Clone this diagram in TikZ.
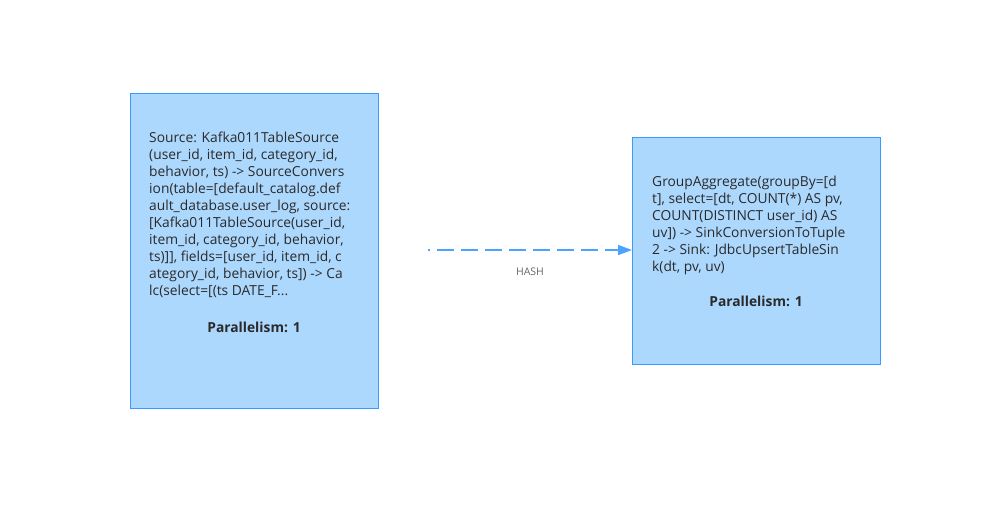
\documentclass[tikz,border=0pt]{standalone}
\usepackage{fontspec}
\setmainfont{Open Sans}
\usetikzlibrary{arrows.meta}
\definecolor{boxfill}{HTML}{ADD8FE}
\definecolor{boxline}{HTML}{3A9BFF}
\definecolor{edgecol}{HTML}{4AA3FF}
\definecolor{txt}{HTML}{2A2A2A}
\begin{document}
\begin{tikzpicture}[x=1pt,y=-1pt,
  opbox/.style={draw=boxline,fill=boxfill,line width=1.2pt,minimum width=248pt,inner sep=0pt,anchor=north west},
  optext/.style={anchor=north west,align=left,inner sep=0pt,text=txt,font=\fontsize{13.8}{17}\selectfont},
  partext/.style={text=txt,font=\fontsize{13.8}{17}\selectfont\bfseries,inner sep=0pt},
  edgelbl/.style={text=black!60,font=\fontsize{10.5}{12}\selectfont,inner sep=0pt}]
\useasboundingbox (0,0) rectangle (988,515);
\node[opbox,minimum height=315pt] (src) at (130,93) {};
\node[opbox,minimum height=227pt] (agg) at (632,137) {};
\node[optext] (srctext) at (149,132) {Source: Kafka011TableSource\\
(user\_id, item\_id, category\_id,\\
behavior, ts) -> SourceConvers\\
ion(table=[default\_catalog.def\\
ault\_database.user\_log, source:\\
{[}Kafka011TableSource(user\_id,\\
item\_id, category\_id, behavior,\\
ts)]], fields=[user\_id, item\_id, c\\
ategory\_id, behavior, ts]) -> Ca\\
lc(select=[(ts DATE\_F...};
\node[partext] (srcpar) at (254,327) {Parallelism: 1};
\node[optext] (aggtext) at (652,176) {GroupAggregate(groupBy=[d\\
t], select=[dt, COUNT(*) AS pv,\\
COUNT(DISTINCT user\_id) AS\\
uv]) -> SinkConversionToTuple\\
2 -> Sink: JdbcUpsertTableSin\\
k(dt, pv, uv)};
\node[partext] (aggpar) at (756,301) {Parallelism: 1};
\coordinate (estart) at (428,250);
\draw[edgecol,line width=1.5pt,dash pattern=on 17pt off 7pt,dash phase=15pt,-{Triangle[length=14pt,width=10pt]}] (estart) -- (agg.west |- estart);
\node[edgelbl] (hash) at (530,272) {HASH};
\end{tikzpicture}
\end{document}
